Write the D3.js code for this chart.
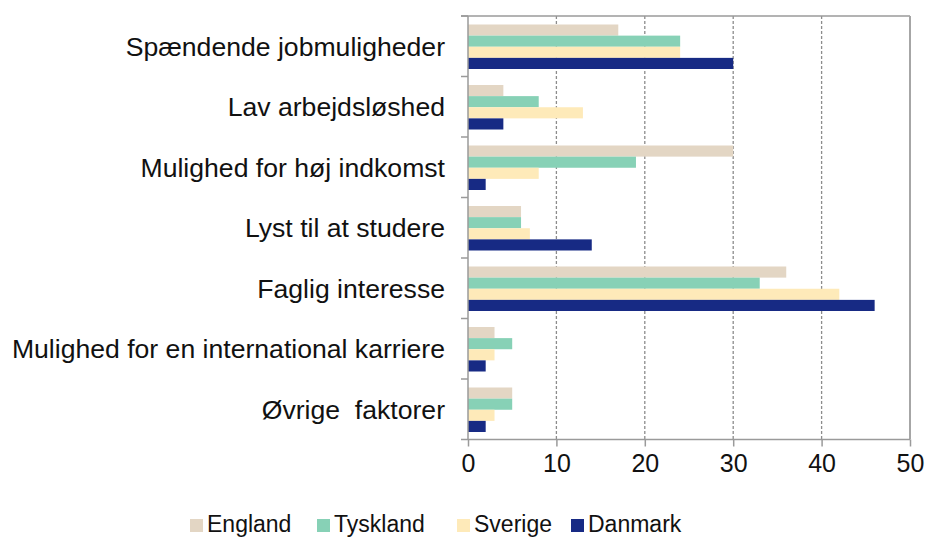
<!DOCTYPE html>
<html>
<head>
<meta charset="utf-8">
<script src="https://cdn.jsdelivr.net/npm/d3@7"></script>
<style>
html,body{margin:0;padding:0;background:#fff;}
svg{display:block;font-family:"Liberation Sans",Arial,sans-serif;}
</style>
</head>
<body>
<svg id="chart" width="928" height="538"></svg>
<script>
const categories = [
  "Spændende jobmuligheder",
  "Lav arbejdsløshed",
  "Mulighed for høj indkomst",
  "Lyst til at studere",
  "Faglig interesse",
  "Mulighed for en international karriere",
  "Øvrige  faktorer"
];
const seriesNames = ["England", "Tyskland", "Sverige", "Danmark"];
const england  = [17, 4, 30, 6, 36, 3, 5];
const tyskland = [24, 8, 19, 6, 33, 5, 5];
const sverige  = [24, 13, 8, 7, 42, 3, 3];
const danmark  = [30, 4, 2, 14, 46, 2, 2];
const xTicks = [0, 10, 20, 30, 40, 50];
const colors = ["#e3d6c4", "#87d1b6", "#feeab9", "#172a84"];

(function () {
const seriesValues = [england, tyskland, sverige, danmark];

const svg = d3.select("#chart");
const pLeft = 468, pRight = 910, pTop = 16, pBottom = 439.5;

const x = d3.scaleLinear().domain([0, 50]).range([pLeft, pRight]);
const y = d3.scaleBand().domain(categories).range([pTop, pBottom]).padding(0);
const sub = d3.scaleBand().domain(seriesNames)
  .range([8.5, y.bandwidth() - 7.5]).padding(0);

// gridlines
const grid = svg.append("g");
grid.selectAll("line").data(xTicks.filter(t => t > 0 && t < 50)).join("line")
  .attr("x1", d => x(d)).attr("x2", d => x(d))
  .attr("y1", pTop).attr("y2", pBottom)
  .attr("stroke", "#8c8c8c").attr("stroke-width", 1.3)
  .attr("stroke-dasharray", "3,2");

// plot border top & right
svg.append("line").attr("x1", pLeft - 7).attr("x2", pRight)
  .attr("y1", pTop).attr("y2", pTop)
  .attr("stroke", "#9a9a9a").attr("stroke-width", 1.5);
svg.append("line").attr("x1", pRight).attr("x2", pRight)
  .attr("y1", pTop).attr("y2", pBottom)
  .attr("stroke", "#a6a6a6").attr("stroke-width", 2);

// bars
const data = [];
categories.forEach((c, i) => {
  seriesNames.forEach((s, j) => {
    data.push({cat: c, series: s, value: seriesValues[j][i], color: colors[j]});
  });
});
svg.append("g").selectAll("rect").data(data).join("rect")
  .attr("x", x(0))
  .attr("y", d => y(d.cat) + sub(d.series))
  .attr("width", d => x(d.value) - x(0))
  .attr("height", sub.bandwidth())
  .attr("fill", d => d.color);

// bottom axis
const xAxis = d3.axisBottom(x).tickValues(xTicks).tickSize(7).tickPadding(8);
const gx = svg.append("g").attr("transform", `translate(0,${pBottom})`).call(xAxis);
gx.select(".domain").attr("stroke", "#9a9a9a").attr("stroke-width", 1.5)
  .attr("d", `M${pLeft},0H${pRight}`);
gx.selectAll(".tick line").attr("stroke", "#9a9a9a").attr("stroke-width", 1.5);
gx.selectAll(".tick text").attr("fill", "#111").attr("font-size", 25)
  .attr("font-family", "Liberation Sans, Arial, sans-serif");

// left axis
const boundaries = categories.map(c => y(c)).concat([pBottom]);
const gy = svg.append("g");
gy.append("line").attr("x1", pLeft).attr("x2", pLeft).attr("y1", pTop).attr("y2", pBottom)
  .attr("stroke", "#9a9a9a").attr("stroke-width", 1.5);
gy.selectAll("line.t").data(boundaries).join("line").attr("class", "t")
  .attr("x1", pLeft - 7).attr("x2", pLeft)
  .attr("y1", d => d).attr("y2", d => d)
  .attr("stroke", "#9a9a9a").attr("stroke-width", 1.5);
gy.selectAll("text").data(categories).join("text")
  .attr("x", pLeft - 23)
  .attr("y", d => y(d) + y.bandwidth() / 2)
  .attr("dy", "0.35em")
  .attr("text-anchor", "end")
  .attr("font-size", 26.6)
  .attr("fill", "#111")
  .style("white-space", "pre")
  .text(d => d);

// legend
const legendX = [190, 317, 457, 571];
const lg = svg.append("g");
seriesNames.forEach((s, j) => {
  lg.append("rect").attr("x", legendX[j]).attr("y", 519)
    .attr("width", 13).attr("height", 13).attr("fill", colors[j]);
  lg.append("text").attr("x", legendX[j] + 17).attr("y", 532)
    .attr("font-size", 23).attr("fill", "#111").text(s);
});
})();
</script>
</body>
</html>
